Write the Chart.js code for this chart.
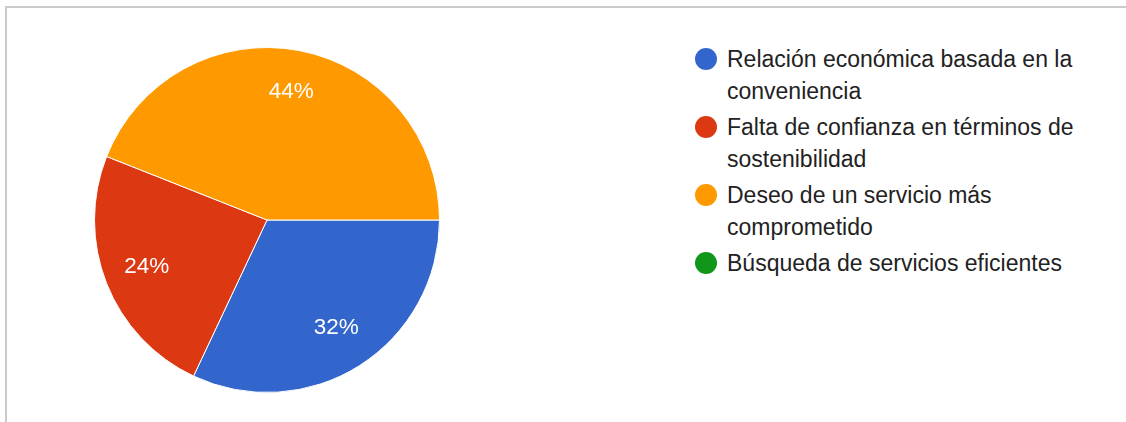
<!DOCTYPE html>
<html>
<head>
<meta charset="utf-8">
<script src="https://cdn.jsdelivr.net/npm/chart.js@4"></script>
<style>
  html, body { margin: 0; padding: 0; background: #fff; }
  body { width: 1126px; height: 422px; position: relative; overflow: hidden;
         font-family: "Liberation Sans", Arial, sans-serif; }
  #frame { position: absolute; left: 5px; top: 6px; right: -10px; bottom: -10px;
           border-top: 2px solid #cacaca; border-left: 2px solid #cacaca; }
  #pie-box { position: absolute; left: 94px; top: 47px; width: 346px; height: 346px; }
  #legend { position: absolute; left: 695px; top: 43px; width: 420px; }
  .item { position: relative; padding-left: 32px; margin-bottom: 4px;
          font-size: 23px; line-height: 32px; color: #222; }
  .dot { position: absolute; left: 0; top: 5px; width: 22px; height: 22px; border-radius: 50%; }
</style>
</head>
<body>
<div id="frame"></div>
<div id="pie-box"><canvas id="pie"></canvas></div>
<div id="legend"></div>

<script>
// Answer categories and their share of responses (%)
const categories = [
  ['Relación económica basada en la', 'conveniencia'],
  ['Falta de confianza en términos de', 'sostenibilidad'],
  ['Deseo de un servicio más', 'comprometido'],
  ['Búsqueda de servicios eficientes']
];
const shares = [32, 24, 44, 0];
const sliceColors = ['#3366cc', '#dc3912', '#ff9900', '#109618'];

// Percent labels inside each slice
const sliceLabels = {
  id: 'sliceLabels',
  afterDatasetsDraw(chart) {
    const ctx = chart.ctx;
    const meta = chart.getDatasetMeta(0);
    ctx.save();
    ctx.fillStyle = '#ffffff';
    ctx.font = '22.5px "Liberation Sans", Arial, sans-serif';
    ctx.textAlign = 'center';
    ctx.textBaseline = 'middle';
    meta.data.forEach((arc, i) => {
      const value = shares[i];
      if (!value) return;
      const p = arc.getProps(['x', 'y', 'startAngle', 'endAngle', 'outerRadius'], true);
      const mid = (p.startAngle + p.endAngle) / 2;
      const r = p.outerRadius * 0.75;
      ctx.fillText(value + '%', p.x + Math.cos(mid) * r, p.y + Math.sin(mid) * r - 1);
    });
    ctx.restore();
  }
};

new Chart(document.getElementById('pie'), {
  type: 'pie',
  data: {
    labels: categories.map(c => c.join(' ')),
    datasets: [{
      data: shares,
      backgroundColor: sliceColors,
      borderColor: '#ffffff',
      borderWidth: 1
    }]
  },
  options: {
    responsive: true,
    maintainAspectRatio: false,
    animation: false,
    rotation: 90,
    plugins: {
      legend: { display: false },
      tooltip: { enabled: false }
    }
  },
  plugins: [sliceLabels]
});

// Legend on the right, wrapped like the original labels
const legend = document.getElementById('legend');
categories.forEach((lines, i) => {
  const item = document.createElement('div');
  item.className = 'item';
  const dot = document.createElement('span');
  dot.className = 'dot';
  dot.style.background = sliceColors[i];
  item.appendChild(dot);
  lines.forEach((line, j) => {
    if (j > 0) item.appendChild(document.createElement('br'));
    item.appendChild(document.createTextNode(line));
  });
  legend.appendChild(item);
});
</script>
</body>
</html>
